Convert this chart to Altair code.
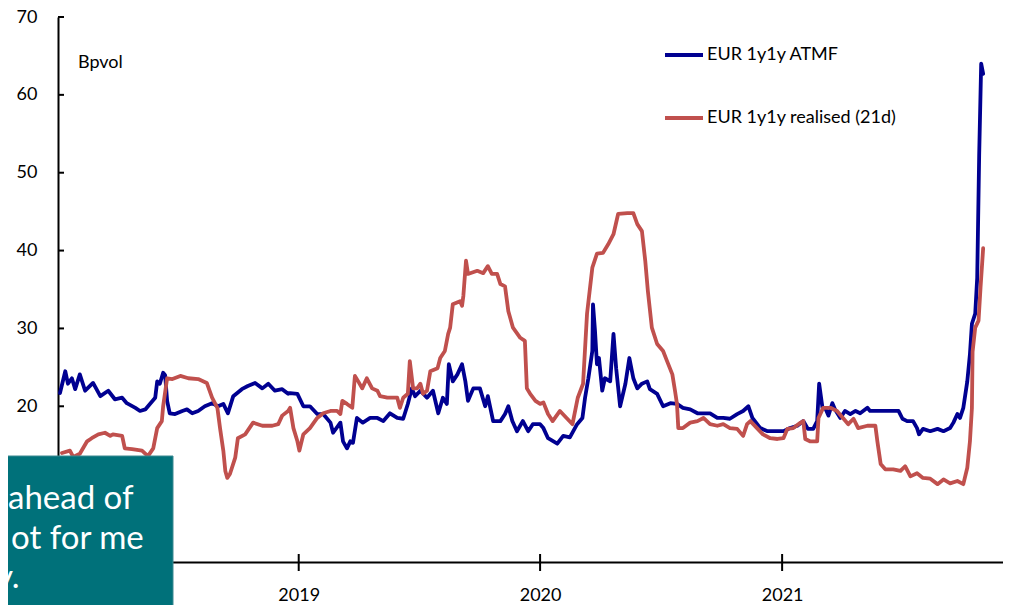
import altair as alt
import pandas as pd

# ---------------- data ----------------
series_names = ["EUR 1y1y ATMF", "EUR 1y1y realised (21d)"]
series_colors = ["#000091", "#C0504D"]

atmf_dates = ["2018-01-05","2018-01-13","2018-01-17","2018-01-23","2018-01-28","2018-02-04","2018-02-12","2018-02-24","2018-03-07","2018-03-19","2018-03-29","2018-04-09","2018-04-16","2018-04-29","2018-05-06","2018-05-14","2018-05-21","2018-05-29","2018-06-01","2018-06-05","2018-06-10","2018-06-13","2018-06-16","2018-06-20","2018-06-28","2018-07-09","2018-07-16","2018-07-24","2018-08-02","2018-08-12","2018-08-23","2018-09-01","2018-09-09","2018-09-16","2018-09-24","2018-10-07","2018-10-16","2018-10-27","2018-11-07","2018-11-16","2018-11-26","2018-12-07","2018-12-16","2018-12-19","2018-12-30","2019-01-08","2019-01-18","2019-01-29","2019-02-07","2019-02-18","2019-02-22","2019-03-05","2019-03-09","2019-03-15","2019-03-20","2019-03-24","2019-03-30","2019-04-08","2019-04-19","2019-04-30","2019-05-09","2019-05-19","2019-05-30","2019-06-08","2019-06-15","2019-06-21","2019-06-26","2019-07-04","2019-07-14","2019-07-23","2019-07-31","2019-08-07","2019-08-13","2019-08-16","2019-08-22","2019-08-29","2019-09-05","2019-09-10","2019-09-14","2019-09-22","2019-10-02","2019-10-10","2019-10-14","2019-10-22","2019-11-02","2019-11-09","2019-11-14","2019-11-20","2019-11-27","2019-12-06","2019-12-14","2019-12-21","2020-01-01","2020-01-06","2020-01-13","2020-01-27","2020-02-05","2020-02-15","2020-02-26","2020-03-05","2020-03-09","2020-03-14","2020-03-20","2020-03-21","2020-03-24","2020-03-27","2020-03-30","2020-04-04","2020-04-08","2020-04-16","2020-04-21","2020-04-25","2020-05-01","2020-05-09","2020-05-15","2020-05-21","2020-05-27","2020-06-03","2020-06-11","2020-06-15","2020-06-26","2020-07-05","2020-07-16","2020-07-26","2020-08-04","2020-08-15","2020-08-26","2020-09-04","2020-09-14","2020-09-25","2020-10-04","2020-10-14","2020-10-25","2020-11-03","2020-11-11","2020-11-17","2020-11-29","2020-12-10","2020-12-19","2020-12-29","2021-01-03","2021-01-13","2021-01-24","2021-02-02","2021-02-09","2021-02-17","2021-02-23","2021-02-26","2021-03-03","2021-03-07","2021-03-12","2021-03-18","2021-03-22","2021-03-30","2021-04-06","2021-04-14","2021-04-22","2021-04-29","2021-05-10","2021-05-14","2021-06-26","2021-07-02","2021-07-09","2021-07-18","2021-07-24","2021-07-27","2021-08-02","2021-08-13","2021-08-24","2021-09-02","2021-09-12","2021-09-17","2021-09-23","2021-09-27","2021-10-02","2021-10-08","2021-10-12","2021-10-15","2021-10-20","2021-10-23","2021-10-26","2021-10-29","2021-11-01"]
atmf_values = [21.7,24.5,22.9,23.6,22.2,24.1,22.0,23.0,21.3,22.0,20.9,21.1,20.4,19.8,19.4,19.6,20.3,21.1,23.2,22.9,24.3,24.0,20.7,19.1,19.0,19.4,19.6,19.1,19.4,20.0,20.4,20.0,20.3,19.1,21.3,22.2,22.6,23.0,22.3,22.9,22.0,22.2,21.6,21.7,21.6,20.0,20.0,19.0,19.0,17.9,16.6,17.9,15.5,14.6,15.5,15.3,18.5,17.9,18.5,18.5,18.1,19.1,18.5,18.4,20.3,22.3,21.3,22.0,21.1,22.0,19.1,21.1,20.3,25.4,23.2,24.1,25.4,23.2,20.7,22.3,22.3,20.0,21.3,18.1,18.1,19.0,20.0,18.1,16.8,18.1,16.8,17.7,17.7,17.2,15.9,15.2,16.2,16.0,17.7,18.5,21.1,23.6,27.1,33.1,29.7,25.4,26.2,22.0,23.6,23.2,29.3,24.9,20.0,22.9,26.2,23.6,22.3,22.9,23.2,22.2,21.6,20.0,20.4,20.3,19.8,19.6,19.1,19.1,19.1,18.5,18.5,18.4,19.0,19.4,20.0,18.5,17.2,16.8,16.8,16.8,16.8,17.2,17.5,18.1,17.1,17.1,18.1,22.9,19.8,19.8,18.8,20.4,19.6,18.5,19.4,19.0,19.4,19.1,19.8,19.4,19.4,18.4,18.1,18.1,17.2,16.4,17.1,16.8,17.1,16.8,17.2,17.9,19.0,18.5,19.8,23.2,26.7,30.6,31.9,36.5,52.4,64.0,62.7]

realised_dates = ["2018-01-08","2018-01-20","2018-01-25","2018-02-04","2018-02-15","2018-02-22","2018-03-04","2018-03-14","2018-03-22","2018-03-26","2018-04-09","2018-04-13","2018-04-24","2018-05-09","2018-05-18","2018-05-26","2018-06-01","2018-06-08","2018-06-10","2018-06-16","2018-06-24","2018-07-06","2018-07-18","2018-08-02","2018-08-15","2018-08-23","2018-08-31","2018-09-04","2018-09-09","2018-09-12","2018-09-15","2018-09-19","2018-09-27","2018-10-01","2018-10-12","2018-10-24","2018-11-07","2018-11-22","2018-12-01","2018-12-07","2018-12-16","2018-12-19","2018-12-24","2018-12-30","2019-01-02","2019-01-08","2019-01-18","2019-01-29","2019-02-07","2019-02-18","2019-02-28","2019-03-05","2019-03-08","2019-03-15","2019-03-23","2019-03-27","2019-04-01","2019-04-07","2019-04-14","2019-04-22","2019-04-30","2019-05-04","2019-05-15","2019-05-30","2019-06-03","2019-06-08","2019-06-15","2019-06-18","2019-06-23","2019-06-29","2019-07-04","2019-07-08","2019-07-14","2019-07-19","2019-07-30","2019-08-03","2019-08-10","2019-08-15","2019-08-18","2019-08-22","2019-09-02","2019-09-05","2019-09-07","2019-09-11","2019-09-14","2019-09-28","2019-10-07","2019-10-14","2019-10-20","2019-10-28","2019-11-02","2019-11-09","2019-11-14","2019-11-21","2019-12-02","2019-12-09","2019-12-12","2019-12-17","2019-12-25","2020-01-01","2020-01-06","2020-01-13","2020-01-20","2020-01-31","2020-02-10","2020-02-19","2020-02-27","2020-03-06","2020-03-12","2020-03-20","2020-03-27","2020-04-05","2020-04-13","2020-04-21","2020-04-28","2020-05-12","2020-05-21","2020-05-27","2020-06-03","2020-06-08","2020-06-12","2020-06-18","2020-06-26","2020-07-05","2020-07-11","2020-07-19","2020-07-23","2020-07-26","2020-07-28","2020-08-04","2020-08-15","2020-08-26","2020-09-04","2020-09-14","2020-09-25","2020-10-04","2020-10-14","2020-10-25","2020-11-03","2020-11-09","2020-11-14","2020-11-24","2020-12-03","2020-12-14","2020-12-25","2021-01-03","2021-01-09","2021-01-18","2021-01-29","2021-02-02","2021-02-05","2021-02-12","2021-02-23","2021-02-25","2021-03-04","2021-03-15","2021-03-25","2021-04-03","2021-04-11","2021-04-19","2021-04-26","2021-05-10","2021-05-22","2021-05-25","2021-05-30","2021-06-06","2021-06-18","2021-06-29","2021-07-06","2021-07-14","2021-07-24","2021-08-02","2021-08-13","2021-08-24","2021-09-02","2021-09-12","2021-09-23","2021-10-02","2021-10-08","2021-10-12","2021-10-15","2021-10-16","2021-10-20","2021-10-25","2021-10-28","2021-11-01"]
realised_values = [14.0,14.3,13.5,13.9,15.5,15.9,16.4,16.6,16.2,16.4,16.2,14.6,14.5,14.3,13.6,14.6,17.2,18.1,20.0,23.6,23.5,23.9,23.6,23.5,23.0,21.1,19.8,17.2,14.3,11.7,10.8,11.3,13.4,15.9,16.4,17.9,17.5,17.5,17.7,18.8,19.4,19.8,17.2,15.5,14.3,16.4,17.2,18.5,19.1,19.4,19.4,19.0,20.7,20.3,19.8,23.9,23.2,22.3,23.6,22.3,22.0,21.3,21.1,21.1,19.8,21.1,21.6,25.8,22.3,22.3,22.9,21.6,22.0,24.5,24.9,26.2,27.1,29.3,30.1,33.1,33.5,32.9,34.2,38.7,37.0,37.4,37.1,38.0,37.0,37.0,35.7,35.4,32.2,30.1,28.8,28.4,22.3,21.6,20.7,20.3,20.5,19.0,18.1,19.4,18.5,17.7,21.1,22.9,31.9,37.8,39.6,39.7,40.8,42.1,44.7,44.8,44.8,43.4,42.5,38.7,34.8,30.1,28.0,27.1,25.8,24.1,22.0,20.3,17.2,17.2,17.9,18.1,18.5,17.7,17.5,17.7,17.2,17.1,16.2,17.7,18.1,17.2,16.4,15.9,15.8,15.9,17.1,17.2,17.9,18.1,15.8,15.5,15.5,18.5,19.8,19.8,19.4,18.5,17.7,18.4,17.2,17.5,17.5,15.5,12.6,11.9,11.9,11.7,12.3,11.0,11.4,10.8,10.7,10.0,10.6,10.1,10.4,10.0,12.1,15.5,19.8,27.0,30.1,31.0,35.2,40.3]

y_tick_values = [0, 10, 20, 30, 40, 50, 60, 70]
y_label_values = [20, 30, 40, 50, 60, 70]   # 0 and 10 sit under the overlay box
x_tick_dates = ["2019-01-01", "2020-01-01", "2021-01-01"]
x_domain = ["2018-01-02", "2021-12-01"]
unit_label = "Bpvol"
overlay_lines = ["ahead of", "ot for me", "y."]

# ---------------- build ----------------
df = pd.concat([
    pd.DataFrame({"date": atmf_dates, "value": atmf_values, "series": series_names[0]}),
    pd.DataFrame({"date": realised_dates, "value": realised_values, "series": series_names[1]}),
])

FONT = "Lato"
W, H = 945, 545

xscale = alt.Scale(domain=x_domain, nice=False)
yscale = alt.Scale(domain=[0, 70], nice=False, zero=False)

lines = alt.Chart(df).mark_line(strokeWidth=3.8, strokeJoin="round", strokeCap="round").encode(
    x=alt.X("date:T", scale=xscale,
            axis=alt.Axis(title=None, values=x_tick_dates, format="%Y", ticks=False, tickSize=0,
                          labelFontSize=18, labelFont=FONT, labelColor="black",
                          labelPadding=24, labelBaseline="top", grid=False,
                          domainColor="black", domainWidth=2)),
    y=alt.Y("value:Q", scale=yscale,
            axis=alt.Axis(title=None, values=y_label_values, ticks=False, tickSize=0,
                          labelFontSize=18, labelFont=FONT, labelColor="black",
                          labelPadding=21, grid=False, domainColor="black", domainWidth=2)),
    color=alt.Color("series:N", sort=series_names,
                    scale=alt.Scale(domain=series_names, range=series_colors),
                    legend=alt.Legend(title=None, orient="none", legendX=605, legendY=17,
                                      symbolType="stroke", symbolSize=1444, symbolStrokeWidth=4,
                                      labelFontSize=18, labelFont=FONT, labelColor="black",
                                      labelLimit=0, rowPadding=33, labelOffset=2, padding=0)),
)

ytick_df = pd.DataFrame({"v": y_tick_values})
yticks = alt.Chart(ytick_df).mark_rule(color="black", strokeWidth=2).encode(
    y=alt.Y("v:Q", scale=yscale), x=alt.value(0), x2=alt.value(6))

xtick_df = pd.DataFrame({"d": x_tick_dates})
xticks = alt.Chart(xtick_df).mark_rule(color="black", strokeWidth=2).encode(
    x=alt.X("d:T", scale=xscale), y=alt.value(H - 8), y2=alt.value(H + 9))

unit = alt.Chart(pd.DataFrame({"t": [unit_label]})).mark_text(
    align="left", baseline="middle", fontSize=18, font=FONT, color="black"
).encode(x=alt.value(20), y=alt.value(46), text="t:N")

box = alt.Chart(pd.DataFrame({"b": [1]})).mark_rect(
    color="#00717A", stroke="#3C8A91", strokeWidth=1
).encode(x=alt.value(-60), x2=alt.value(115), y=alt.value(439), y2=alt.value(620))

overlay_pos = [(-50, 492), (-47, 532), (-62, 571)]
overlay_layers = []
for txt, (px, py) in zip(overlay_lines, overlay_pos):
    overlay_layers.append(
        alt.Chart(pd.DataFrame({"t": [txt]})).mark_text(
            align="left", baseline="alphabetic", fontSize=33, font=FONT, color="white"
        ).encode(x=alt.value(px), y=alt.value(py), text="t:N")
    )

chart = alt.layer(lines, yticks, xticks, unit, box, *overlay_layers).properties(
    width=W, height=H,
    autosize=alt.AutoSizeParams(type="none"),
    padding={"left": 50, "top": 9, "right": 0, "bottom": 43},
).configure(background="white").configure_view(stroke=None)

chart.save("out.html", embed_options={"renderer": "svg", "actions": False})
